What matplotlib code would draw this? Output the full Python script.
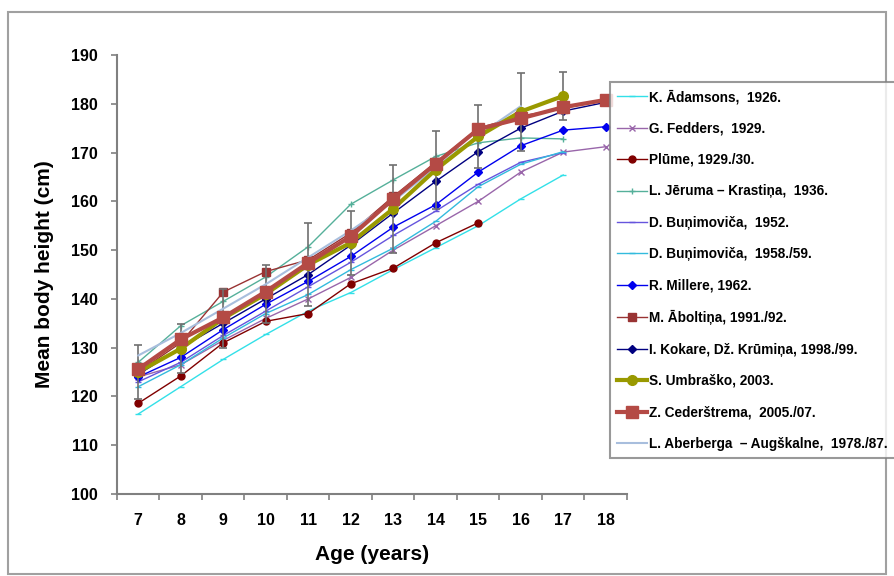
import numpy as np
import matplotlib
matplotlib.use("Agg")
import matplotlib.pyplot as plt
from matplotlib.patches import Rectangle
from matplotlib.ticker import FixedLocator

plt.rcParams['font.family'] = ['Liberation Sans', 'DejaVu Sans']

nan = np.nan
ages = [7, 8, 9, 10, 11, 12, 13, 14, 15, 16, 17, 18]

adamsons = [116.4, 122.0, 127.6, 132.7, 137.5, 141.3, 146.0, 150.5, 155.0, 160.5, 165.4, nan]
fedders = [124.0, 126.5, 131.5, 136.0, 140.0, 144.4, 150.0, 155.0, 160.0, 166.0, 170.1, 171.2]
plume = [118.6, 124.2, 131.0, 135.4, 137.0, 143.1, 146.3, 151.5, 155.6, nan, nan, nan]
jeruma = [127.0, 134.5, 139.5, 144.5, 150.7, 159.4, 164.4, 169.2, 172.0, 173.0, 172.8, nan]
bunim_52 = [123.0, 127.0, 132.5, 137.5, 142.5, 147.5, 153.0, 158.0, 163.5, 168.0, 170.0, nan]
bunim_58 = [122.0, 126.5, 132.0, 137.0, 140.9, 146.0, 150.4, 155.9, 163.0, 167.6, 170.2, nan]
millere = [124.0, 128.0, 133.7, 138.9, 143.6, 148.7, 154.7, 159.3, 166.0, 171.4, 174.6, 175.3]
aboltina = [125.0, 131.0, 141.4, 145.6, 148.0, 153.5, 161.0, 168.0, 175.0, 177.5, 179.0, 181.0]
kokare = [124.5, 130.0, 135.0, 140.0, 145.0, 151.0, 157.6, 164.1, 170.2, 175.0, 178.5, 180.3]
umbrasko = [125.0, 129.8, 136.0, 141.0, 147.0, 151.5, 158.5, 166.5, 173.3, 178.4, 181.6, nan]
umbrasko_sd = [5.5, 5.0, 6.0, 6.0, 8.5, 6.5, 9.0, 8.0, 6.5, 8.0, 5.0, nan]
cederstrema = [125.6, 131.7, 136.2, 141.5, 147.4, 152.8, 160.5, 167.7, 174.8, 177.0, 179.3, 180.8]
aberberga = [128.4, 133.0, 138.0, 143.0, 148.5, 154.0, 160.0, 167.0, 173.5, 179.5, nan, nan]

labels = [
    "K. Ādamsons,  1926.",
    "G. Fedders,  1929.",
    "Plūme, 1929./30.",
    "L. Jēruma – Krastiņa,  1936.",
    "D. Buņimoviča,  1952.",
    "D. Buņimoviča,  1958./59.",
    "R. Millere, 1962.",
    "M. Āboltiņa, 1991./92.",
    "I. Kokare, Dž. Krūmiņa, 1998./99.",
    "S. Umbraško, 2003.",
    "Z. Cederštrema,  2005./07.",
    "L. Aberberga  – Augškalne,  1978./87.",
]

fig = plt.figure(figsize=(8.94, 5.76), dpi=100)
fig.patch.set_facecolor('white')
# thin grey frame round the whole chart
fig.patches.append(Rectangle((8 / 894, 2 / 576), 878 / 894, 562 / 576,
                             transform=fig.transFigure, fill=False,
                             edgecolor='#a0a0a0', linewidth=1.5))

ax = fig.add_axes([117 / 894, 82 / 576, 510 / 894, 439 / 576])
x = np.array(ages)

def line(vals, color, marker, ms, lw=1.0, mew=1.0, z=2):
    h, = ax.plot(x, vals, color=color, marker=marker, markersize=ms,
                 linewidth=lw, markeredgewidth=mew, zorder=z)
    return h

handles = [
    line(adamsons, '#33e0e8', '_', 5),
    line(fedders, '#9966aa', 'x', 4),
    line(plume, '#800000', 'o', 5),
    line(jeruma, '#55b09a', '+', 5),
    line(bunim_52, '#6655dd', '_', 5),
    line(bunim_58, '#33bbdd', '_', 5),
    line(millere, '#0000ee', 'D', 4),
    line(aboltina, '#993333', 's', 6),
    line(kokare, '#000080', 'D', 4),
]
ax.errorbar(x, umbrasko, yerr=umbrasko_sd, fmt='none', ecolor='#707070',
            elinewidth=1.2, capsize=3, capthick=1.2, zorder=3)
handles.append(line(umbrasko, '#999900', 'o', 7, lw=3, z=4))
handles.append(line(cederstrema, '#b44a45', 's', 8, lw=3, z=5))
handles.append(line(aberberga, '#a8bedd', None, 0, lw=1.5, z=3))

ax.set_xlim(6.5, 18.5)
ax.set_ylim(100, 190)
ax.xaxis.set_major_locator(FixedLocator(np.arange(6.5, 19, 1)))
ax.xaxis.set_minor_locator(FixedLocator(ages))
ax.set_xticklabels([])
ax.set_xticklabels([str(a) for a in ages], minor=True)
ax.tick_params(axis='x', which='minor', length=0, pad=14)
ax.tick_params(axis='x', which='major', length=4, width=1.2, color='#808080', direction='out')
ax.set_yticks(np.arange(100, 191, 10))
ax.tick_params(axis='y', length=4, width=1.2, color='#808080', direction='out', pad=10)
for t in ax.get_xticklabels(minor=True) + ax.get_yticklabels():
    t.set_fontweight('bold')
    t.set_fontsize(11.5)

for s in ['top', 'right']:
    ax.spines[s].set_visible(False)
for s in ['left', 'bottom']:
    ax.spines[s].set_color('#808080')
    ax.spines[s].set_linewidth(1.5)

ax.set_xlabel('Age (years)', fontsize=15, fontweight='bold', labelpad=12)
ax.set_ylabel('Mean body height (cm)', fontsize=15, fontweight='bold', labelpad=12)

leg = fig.legend(handles, labels, loc='upper left',
                 bbox_to_anchor=(610 / 894, 1 - 82 / 576),
                 prop={'size': 9.8, 'weight': 'bold'}, frameon=True,
                 fancybox=False, handlelength=2.15, handletextpad=0.2,
                 labelspacing=1.28, borderpad=0.55, borderaxespad=0)
leg.get_frame().set_edgecolor('#808080')
leg.get_frame().set_linewidth(1.5)

fig.savefig('out.png', dpi=100)
